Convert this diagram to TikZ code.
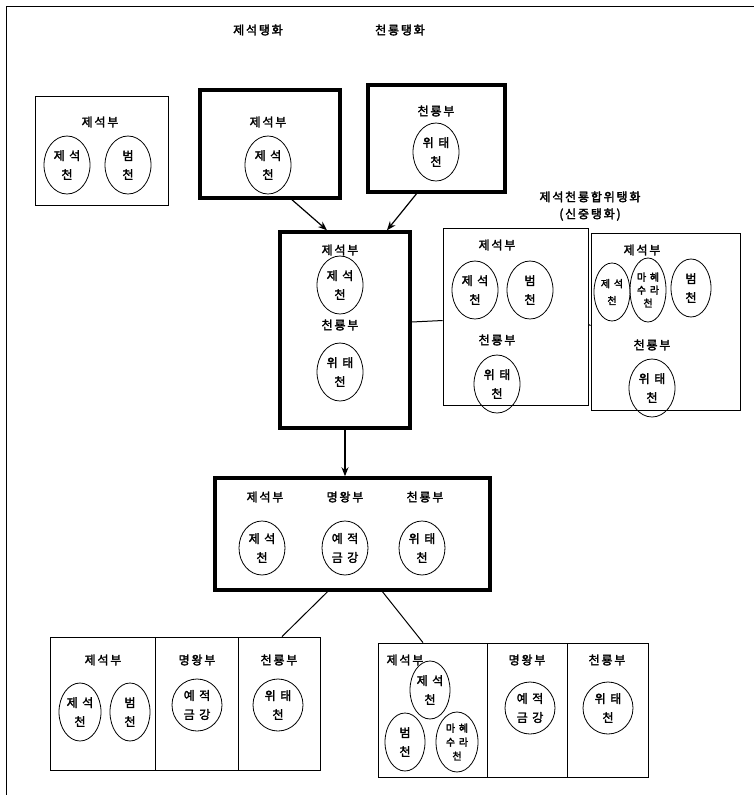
\documentclass[tikz,border=0pt]{standalone}
\usepackage{fontspec}
\newfontfamily\kr[FakeBold=2.5,LetterSpace=15]{Noto Sans CJK KR}
\usetikzlibrary{shapes.geometric,fit,calc,arrows.meta}
\begin{document}
\begin{tikzpicture}[x=1pt,y=-1pt,
 every node/.style={font=\kr\fontsize{12}{14}\selectfont},
 thinbox/.style={draw, line width=0.8pt, inner sep=0pt},
 thickbox/.style={draw, line width=3.5pt, inner sep=0pt},
 deity/.style={draw, ellipse, line width=0.8pt, minimum width=46pt, minimum height=58pt, inner sep=0pt, align=center, font=\kr\fontsize{12}{19}\selectfont},
 arr/.style={-{Stealth[length=9pt,width=7pt]}, line width=1.2pt},
 link/.style={line width=1pt}]
\useasboundingbox (0,0) rectangle (754,795);
\draw[line width=0.8pt] (6,795) -- (6,6) -- (754,6);

% top titles
\node (t1) at (258,30) {제석탱화};
\node (t2) at (400,30) {천룡탱화};
\node[align=center, font=\kr\fontsize{12}{17}\selectfont] (t3) at (590,206) {제석천룡합위탱화\\(신중탱화)};

% box A
\node[thinbox, fit={(35,96)(168,205)}] (A) {};
\node (Ah) at (100,122) {제석부};
\node[deity] (A1) at (67,165) {제 석\\천};
\node[deity] (A2) at (128,165) {범\\천};

% box B
\node[thickbox, fit={(200,90)(340,198)}] (B) {};
\node (Bh) at (268,122) {제석부};
\node[deity] (B1) at (268,165) {제 석\\천};

% box C
\node[thickbox, fit={(368,85)(505,192)}] (C) {};
\node (Ch) at (436,111) {천룡부};
\node[deity] (C1) at (436,152) {위 태\\천};

% box D
\node[thickbox, fit={(280,232)(410,428)}] (D) {};
\node (Dh1) at (340,250) {제석부};
\node[deity] (D1) at (340,285) {제 석\\천};
\node (Dh2) at (340,325) {천룡부};
\node[deity] (D2) at (340,372) {위 태\\천};

% box E
\node[thinbox, fit={(443,228)(588,405)}] (E) {};
\node (Eh1) at (497,245) {제석부};
\node[deity] (E1) at (475,290) {제 석\\천};
\node[deity] (E2) at (530,290) {범\\천};
\node (Eh2) at (497,340) {천룡부};
\node[deity] (E3) at (497,384) {위 태\\천};

% box F
\node[thinbox, fit={(591,233)(740,410)}] (F) {};
\node (Fh1) at (642,250) {제석부};
\node[deity, minimum width=36pt, font=\kr\fontsize{10}{17}\selectfont] (F1) at (612,292) {제 석\\천};
\node[deity, minimum width=36pt, minimum height=64pt, font=\kr\fontsize{10}{13}\selectfont] (F2) at (648,290) {마 혜\\수 라\\천};
\node[deity, minimum width=40pt] (F3) at (691,288) {범\\천};
\node (Fh2) at (652,345) {천룡부};
\node[deity] (F4) at (652,388) {위 태\\천};

% box G
\node[thickbox, fit={(215,478)(490,590)}] (G) {};
\node (Gh1) at (265,497) {제석부};
\node (Gh2) at (345,497) {명왕부};
\node (Gh3) at (425,497) {천룡부};
\node[deity, minimum height=54pt] (G1) at (262,548) {제 석\\천};
\node[deity, minimum height=54pt] (G2) at (345,548) {예 적\\금 강};
\node[deity, minimum height=54pt] (G3) at (422,548) {위 태\\천};

% box H
\node[thinbox, fit={(50,637)(320,770)}] (H) {};
\draw[line width=0.8pt] (155,637) -- (155,770);
\draw[line width=0.8pt] (238,637) -- (238,770);
\node (Hh1) at (103,660) {제석부};
\node (Hh2) at (197,660) {명왕부};
\node (Hh3) at (279,660) {천룡부};
\node[deity, minimum width=42pt] (H1) at (80,712) {제 석\\천};
\node[deity, minimum width=40pt] (H2) at (130,712) {범\\천};
\node[deity, minimum width=50pt, minimum height=52pt] (H3) at (197,705) {예 적\\금 강};
\node[deity, minimum width=50pt, minimum height=52pt] (H4) at (278,705) {위 태\\천};

% box I
\node[thinbox, fit={(378,643)(648,777)}] (I) {};
\draw[line width=0.8pt] (487,643) -- (487,777);
\draw[line width=0.8pt] (567,643) -- (567,777);
\node (Ih1) at (405,660) {제석부};
\node (Ih2) at (527,660) {명왕부};
\node (Ih3) at (607,660) {천룡부};
\node[deity, minimum width=40pt] (I1) at (430,690) {제 석\\천};
\node[deity, minimum width=40pt] (I2) at (405,742) {범\\천};
\node[deity, minimum width=42pt, minimum height=60pt, font=\kr\fontsize{10}{14}\selectfont] (I3) at (457,742) {마 혜\\수 라\\천};
\node[deity, minimum width=50pt, minimum height=52pt] (I4) at (530,708) {예 적\\금 강};
\node[deity, minimum width=50pt, minimum height=52pt] (I5) at (608,708) {위 태\\천};

% connectors
\draw[arr] ($(B.south)+(22,0)$) -- ($(D.north)+(-18,0)$);
\draw[arr] ($(C.south)+(-20,0)$) -- ($(D.north)+(42,0)$);
\draw[arr] (D.south) -- (D.south |- G.north);
\draw[link] ($(D.east)+(0,-8)$) -- ($(E.west)+(0,4)$);
\draw[link] ($(E.east)+(0,8)$) -- ($(F.west)+(0,4)$);
\draw[link] ($(G.south)+(-25,0)$) -- ($(H.north)+(97,0)$);
\draw[link] ($(G.south)+(30,0)$) -- ($(I.north)+(-90,0)$);
\end{tikzpicture}
\end{document}
